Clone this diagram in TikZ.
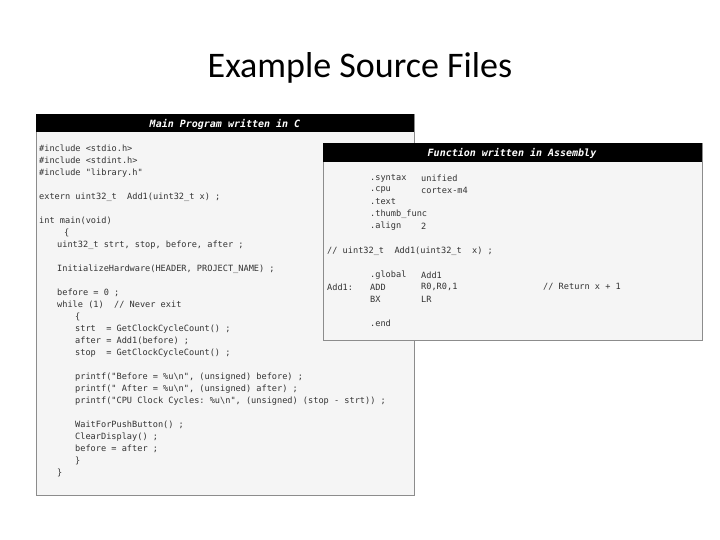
\documentclass[tikz,border=0pt]{standalone}
\usepackage{fontspec}
\setmainfont{Carlito}
\setmonofont{DejaVu Sans Mono}
\begin{document}
\begin{tikzpicture}[x=1pt,y=-1pt,
  panel/.style={draw=black!45,fill=black!4,line width=0.6pt},
  bar/.style={fill=black},
  head/.style={text=white,font=\ttfamily\bfseries\itshape\fontsize{10}{12}\selectfont},
  code/.style={anchor=north west,align=left,inner sep=0pt,text=black!80,font=\ttfamily\fontsize{8.6}{12}\selectfont}]
\useasboundingbox (0,0) rectangle (720,540);
\node (title) at (360,68) {\fontsize{36}{40}\selectfont Example Source Files};
% main panel
\path[panel] (36,114) rectangle (414,495);
\path[bar] (36,114) rectangle (414,132);
\node[head] (mainhead) at (225,124) {Main Program written in C};
\node[code] (maincode) at (39,145) {%
\#include <stdio.h>\\
\#include <stdint.h>\\
\#include "library.h"\\
\mbox{}\\
extern uint32\_t\ \ Add1(uint32\_t x) ;\\
\mbox{}\\
int main(void)\\
\hspace*{25pt}\{\\
\hspace*{18pt}uint32\_t strt, stop, before, after ;\\
\mbox{}\\
\hspace*{18pt}InitializeHardware(HEADER, PROJECT\_NAME) ;\\
\mbox{}\\
\hspace*{18pt}before = 0 ;\\
\hspace*{18pt}while (1)\ \ // Never exit\\
\hspace*{36pt}\{\\
\hspace*{36pt}strt\ \ = GetClockCycleCount() ;\\
\hspace*{36pt}after = Add1(before) ;\\
\hspace*{36pt}stop\ \ = GetClockCycleCount() ;\\
\mbox{}\\
\hspace*{36pt}printf("Before = \%u\textbackslash n", (unsigned) before) ;\\
\hspace*{36pt}printf(" After = \%u\textbackslash n", (unsigned) after) ;\\
\hspace*{36pt}printf("CPU Clock Cycles: \%u\textbackslash n", (unsigned) (stop - strt)) ;\\
\mbox{}\\
\hspace*{36pt}WaitForPushButton() ;\\
\hspace*{36pt}ClearDisplay() ;\\
\hspace*{36pt}before = after ;\\
\hspace*{36pt}\}\\
\hspace*{18pt}\}};
% assembly panel
\path[panel] (323,143) rectangle (702,340);
\path[bar] (323,143) rectangle (702,162);
\node[head] (asmhead) at (512,153) {Function written in Assembly};
\begin{scope}[code/.append style={anchor=west}]
\node[code] (a1) at (370,178) {.syntax};
\node[code] (a1b) at (421,178) {unified};
\node[code] (a2) at (370,190) {.cpu};
\node[code] (a2b) at (421,190) {cortex-m4};
\node[code] (a3) at (370,202) {.text};
\node[code] (a4) at (370,214) {.thumb\_func};
\node[code] (a5) at (370,226) {.align};
\node[code] (a5b) at (421,226) {2};
\node[code] (a6) at (327,251) {// uint32\_t\ \ Add1(uint32\_t\ \ x) ;};
\node[code] (a7) at (370,275) {.global};
\node[code] (a7b) at (421,275) {Add1};
\node[code] (a8l) at (327,287) {Add1:};
\node[code] (a8) at (370,287) {ADD};
\node[code] (a8b) at (421,287) {R0,R0,1};
\node[code] (a8c) at (543,287) {// Return x + 1};
\node[code] (a9) at (370,299) {BX};
\node[code] (a9b) at (421,299) {LR};
\node[code] (a10) at (370,323) {.end};
\end{scope}
\end{tikzpicture}
\end{document}
